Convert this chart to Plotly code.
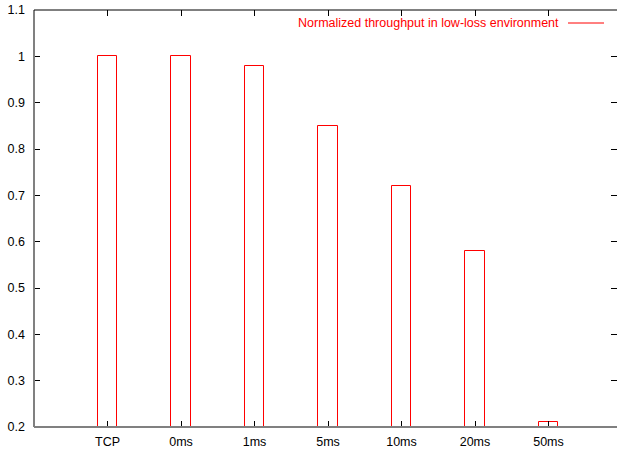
import plotly.graph_objects as go

categories = ["TCP", "0ms", "1ms", "5ms", "10ms", "20ms", "50ms"]
throughput = [1.0, 1.0, 0.98, 0.85, 0.72, 0.58, 0.21]
y_ticks = [0.2, 0.3, 0.4, 0.5, 0.6, 0.7, 0.8, 0.9, 1.0, 1.1]
y_tick_labels = ["0.2", "0.3", "0.4", "0.5", "0.6", "0.7", "0.8", "0.9", "1", "1.1"]
series_name = "Normalized throughput in low-loss environment"

y_min, y_max = 0.2, 1.1
font = "Liberation Sans, Arial, sans-serif"

W, H = 617, 449
ML, MT, MB, MR = 34, 10, 22, 0
PW, PH = W - ML - MR, H - MT - MB


def px(fx):
    return (fx - ML) / PW


def py(fy):
    return (H - MB - fy) / PH


fig = go.Figure()
fig.add_trace(go.Bar(
    x=list(range(len(categories))),
    y=[v - y_min for v in throughput],
    base=y_min,
    width=0.26,
    marker=dict(color="rgba(0,0,0,0)", line=dict(color="#ff0000", width=1)),
    name=series_name,
    showlegend=False,
))

fig.update_layout(
    width=W, height=H,
    margin=dict(l=ML, r=MR, t=MT, b=MB, autoexpand=False),
    paper_bgcolor="white", plot_bgcolor="white",
    font=dict(family=font, size=12.5, color="black"),
    bargap=0,
    xaxis=dict(
        range=[-1, -1 + PW / 73.5],
        tickvals=list(range(len(categories))),
        ticktext=categories,
        ticks="inside", ticklen=6, tickcolor="black", tickwidth=1,
        showline=False, mirror="ticks", showgrid=False, zeroline=False,
        tickfont=dict(size=12.5, family=font), ticklabelstandoff=5,
        automargin=False,
    ),
    yaxis=dict(
        range=[y_min, y_max],
        tickvals=y_ticks,
        ticktext=y_tick_labels,
        ticks="inside", ticklen=6, tickcolor="black", tickwidth=1,
        showline=False, mirror="ticks", showgrid=False, zeroline=False,
        tickfont=dict(size=12.5, family=font), ticklabelstandoff=8,
        automargin=False,
    ),
)

# borders: left and bottom grey, top black
fig.add_shape(type="line", xref="paper", yref="paper", x0=0, x1=0, y0=0, y1=1,
              line=dict(color="#808080", width=2), layer="above")
fig.add_shape(type="line", xref="paper", yref="paper", x0=0, x1=1, y0=0, y1=0,
              line=dict(color="#808080", width=2), layer="above")
fig.add_shape(type="line", xref="paper", yref="paper", x0=0, x1=1, y0=1, y1=1,
              line=dict(color="black", width=1), layer="above")

# gnuplot-style key: text then line sample
fig.add_annotation(xref="paper", yref="paper", x=px(561), y=py(22.5),
                   text=series_name, showarrow=False, xanchor="right", yanchor="middle",
                   font=dict(color="#ff0000", size=12.5, family=font))
fig.add_shape(type="line", xref="paper", yref="paper",
              x0=px(568), x1=px(604), y0=py(23), y1=py(23),
              line=dict(color="#ff0000", width=1))

fig.write_html(
    "out.html",
    config={"displayModeBar": False},
    post_script="document.body.style.margin='0';document.body.style.overflow='hidden';",
)
